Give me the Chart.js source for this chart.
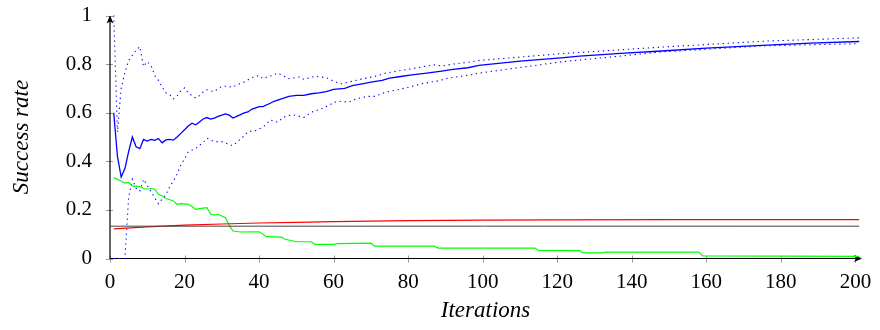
<!DOCTYPE html>
<html lang="en">

<head>
  <meta charset="UTF-8">
  <title>Success rate</title>
  <script src="https://cdn.jsdelivr.net/npm/chart.js@4.4.0/dist/chart.umd.min.js"></script>
  <style>
    html, body { margin: 0; padding: 0; background: #fff; }
    #wrap { width: 880px; height: 330px; }
  </style>
</head>

<body>
  <div id="wrap"><canvas id="chart" width="880" height="330"></canvas></div>
  <script>
    // mean success rate and its spread
    const meanX = [1, 2, 3, 4, 5, 6, 7, 8, 9, 10, 11, 12, 13, 14, 15, 16, 17, 18, 19, 20, 21, 22, 23, 24, 25, 26, 27, 28, 29, 30, 31, 32, 33, 34, 35, 36, 37, 38,
      40, 41, 43, 44, 46, 48, 50, 52, 54, 56, 58, 60, 63, 65, 68, 70, 73, 75, 78, 81, 85, 89, 92, 96, 99, 110, 121, 126, 137, 148, 160, 175, 188, 201];
    const meanY = [0.6, 0.42, 0.335, 0.37, 0.44, 0.50, 0.46, 0.452, 0.49, 0.483, 0.49, 0.486, 0.494, 0.476, 0.488, 0.49, 0.487, 0.50, 0.515, 0.53,
      0.545, 0.557, 0.55, 0.562, 0.574, 0.58, 0.574, 0.578, 0.585, 0.59, 0.595, 0.59, 0.578, 0.585, 0.592, 0.599, 0.603, 0.614,
      0.625, 0.625, 0.639, 0.647, 0.657, 0.667, 0.671, 0.671, 0.678, 0.682, 0.687, 0.696,
      0.70, 0.711, 0.72, 0.726, 0.733, 0.742, 0.749, 0.756, 0.763, 0.771, 0.778, 0.785, 0.795,
      0.812, 0.826, 0.833, 0.844, 0.854, 0.866, 0.877, 0.886, 0.893];

    const upperX = [1, 2, 3, 4, 5, 6, 7, 8, 9, 10, 11, 12, 13, 14, 15, 16, 17, 18, 19, 20, 21, 22, 23, 24, 25, 26, 27, 28, 29, 30, 31, 32, 33, 34, 35, 36,
      38, 40, 41, 44, 45, 48, 51, 52, 55, 58, 60, 62, 64, 68, 71, 74, 77, 81, 85, 87, 89, 92, 96, 99, 121, 148, 175, 201];
    const upperY = [1.0, 0.52, 0.70, 0.765, 0.815, 0.836, 0.857, 0.872, 0.79, 0.81, 0.795, 0.753, 0.733, 0.705, 0.682, 0.674, 0.657, 0.668, 0.69, 0.702,
      0.68, 0.67, 0.66, 0.67, 0.685, 0.694, 0.69, 0.687, 0.70, 0.708, 0.709, 0.707, 0.705, 0.715, 0.72, 0.726,
      0.744, 0.753, 0.74, 0.756, 0.763, 0.74, 0.747, 0.737, 0.75, 0.744, 0.73, 0.719, 0.726, 0.74, 0.749, 0.763, 0.771, 0.781,
      0.792, 0.797, 0.792, 0.80, 0.807, 0.815, 0.843, 0.87, 0.894, 0.908];

    const lowerX = [1, 2, 3, 4, 5, 6, 7, 8, 9, 10, 11, 12, 13, 14, 15, 16, 17, 18, 19, 20, 21, 23, 25, 26, 28, 30, 33, 35, 36, 37, 39,
      41, 42, 43, 45, 46, 47, 49, 50, 52, 53, 54, 56, 58, 59, 60, 62, 64, 66, 69, 71, 74, 77, 81, 84, 88, 91, 97, 99, 121, 148, 175, 201];
    const lowerY = [0, 0, 0, 0, 0.25, 0.326, 0.29, 0.278, 0.326, 0.30, 0.275, 0.25, 0.225, 0.245, 0.262, 0.295, 0.318, 0.347, 0.385, 0.41,
      0.439, 0.453, 0.478, 0.495, 0.481, 0.481, 0.464, 0.492, 0.505, 0.522, 0.526,
      0.54, 0.554, 0.570, 0.561, 0.574, 0.584, 0.592, 0.588, 0.581, 0.591, 0.602, 0.612, 0.625, 0.632, 0.643, 0.647, 0.643, 0.657,
      0.667, 0.667, 0.685, 0.694, 0.708, 0.72, 0.731, 0.743, 0.756, 0.763, 0.809, 0.85, 0.875, 0.884];

    // failure curve (green), slowly rising curve (red) and constant reference
    const greenX = [1, 3, 4, 5, 6, 8, 9, 10, 11, 12, 13, 14, 15, 17, 18, 19, 21, 22, 23, 24, 25, 26, 27, 28, 29, 30, 31, 32, 33, 35,
      40, 42, 46, 47, 50, 54, 55, 60, 61, 70, 71, 87, 88, 114, 115, 126, 127, 132, 133, 158, 159, 201];
    const greenY = [0.333, 0.319, 0.31, 0.313, 0.299, 0.296, 0.288, 0.285, 0.288, 0.285, 0.264, 0.257, 0.247, 0.237, 0.223, 0.226, 0.223, 0.214, 0.202, 0.205,
      0.207, 0.209, 0.182, 0.179, 0.182, 0.175, 0.168, 0.136, 0.113, 0.109, 0.110, 0.090, 0.088, 0.079, 0.069, 0.069, 0.058, 0.058, 0.061, 0.063,
      0.051, 0.051, 0.043, 0.043, 0.033, 0.032, 0.023, 0.023, 0.026, 0.026, 0.011, 0.009];

    const redX = [1, 10, 20, 30, 40, 50, 60, 70, 80, 100, 120, 150, 201];
    const redY = [0.122, 0.13, 0.137, 0.142, 0.146, 0.149, 0.152, 0.154, 0.156, 0.158, 0.159, 0.160, 0.160];

    const baseX = [0, 201];
    const baseY = [0.133, 0.133];

    const xTicks = [0, 20, 40, 60, 80, 100, 120, 140, 160, 180, 200];
    const yTicks = [0, 0.2, 0.4, 0.6, 0.8, 1];

    const points = (xs, ys) => xs.map((x, i) => ({ x: x, y: ys[i] }));

    const serif = '"Liberation Serif", "Times New Roman", serif';

    // axis lines with arrow heads, ticks crossing the axes
    const axisArrows = {
      id: 'axisArrows',
      beforeDatasetsDraw(chart) {
        const { ctx, chartArea: a, scales } = chart;
        ctx.save();
        ctx.strokeStyle = '#999';
        ctx.lineWidth = 1;
        xTicks.forEach(v => {
          const px = Math.round(scales.x.getPixelForValue(v)) + 0.5;
          ctx.beginPath();
          ctx.moveTo(px, a.bottom - 3);
          ctx.lineTo(px, a.bottom + 4);
          ctx.stroke();
        });
        yTicks.forEach(v => {
          const py = Math.round(scales.y.getPixelForValue(v)) + 0.5;
          ctx.beginPath();
          ctx.moveTo(a.left - 4, py);
          ctx.lineTo(a.left + 3, py);
          ctx.stroke();
        });

        ctx.strokeStyle = '#000';
        ctx.fillStyle = '#000';
        ctx.lineWidth = 1.2;
        ctx.beginPath();
        ctx.moveTo(a.left, a.top + 1);
        ctx.lineTo(a.left, a.bottom);
        ctx.lineTo(a.right, a.bottom);
        ctx.stroke();

        // arrow at the end of the x axis
        ctx.beginPath();
        ctx.moveTo(a.right + 1, a.bottom);
        ctx.lineTo(a.right - 7, a.bottom - 3.5);
        ctx.lineTo(a.right - 5, a.bottom);
        ctx.lineTo(a.right - 7, a.bottom + 3.5);
        ctx.closePath();
        ctx.fill();

        // arrow at the top of the y axis
        ctx.beginPath();
        ctx.moveTo(a.left, a.top);
        ctx.lineTo(a.left - 3.5, a.top + 8);
        ctx.lineTo(a.left, a.top + 6);
        ctx.lineTo(a.left + 3.5, a.top + 8);
        ctx.closePath();
        ctx.fill();
        ctx.restore();
      }
    };

    const line = (data, color, extra) => Object.assign({
      data: data,
      borderColor: color,
      borderWidth: 1.2,
      pointRadius: 0,
      tension: 0,
      fill: false,
      clip: false
    }, extra);

    const ctx = document.getElementById('chart').getContext('2d');
    const myChart = new Chart(ctx, {
      type: 'line',
      data: {
        datasets: [
          line(points(baseX, baseY), '#444', { borderWidth: 1 }),
          line(points(redX, redY), '#ff0000'),
          line(points(greenX, greenY), '#00ff00'),
          line(points(upperX, upperY), '#0000ff', { borderDash: [1.3, 3.7], borderWidth: 1.1 }),
          line(points(lowerX, lowerY), '#0000ff', { borderDash: [1.3, 3.7], borderWidth: 1.1 }),
          line(points(meanX, meanY), '#0000ff', { borderWidth: 1.3 })
        ]
      },
      options: {
        responsive: false,
        animation: false,
        layout: { padding: { top: 15.5, right: 19, left: 0, bottom: 0 } },
        plugins: {
          legend: { display: false },
          tooltip: { enabled: false }
        },
        scales: {
          x: {
            type: 'linear',
            min: 0,
            max: 201.5,
            grid: { display: false },
            border: { display: false },
            afterBuildTicks: s => { s.ticks = xTicks.map(v => ({ value: v })); },
            afterFit: s => { s.height = 71.5; s.paddingLeft = 0; s.paddingRight = 0; },
            ticks: {
              color: '#000',
              font: { family: serif, size: 21 },
              padding: 3,
              maxRotation: 0,
              callback: v => String(v)
            },
            title: {
              display: true,
              text: 'Iterations',
              color: '#000',
              font: { family: serif, size: 23, style: 'italic' },
              padding: { top: 0, bottom: 5 }
            }
          },
          y: {
            min: 0,
            max: 1,
            grid: { display: false },
            border: { display: false },
            afterBuildTicks: s => { s.ticks = yTicks.map(v => ({ value: v })); },
            afterFit: s => { s.width = 110; s.paddingTop = 0; s.paddingBottom = 0; },
            ticks: {
              color: '#000',
              font: { family: serif, size: 21 },
              padding: 10,
              callback: v => String(v)
            },
            title: {
              display: true,
              text: 'Success rate',
              color: '#000',
              font: { family: serif, size: 23, style: 'italic' },
              padding: { top: 8, bottom: 0 }
            }
          }
        }
      },
      plugins: [axisArrows]
    });
  </script>
</body>

</html>
